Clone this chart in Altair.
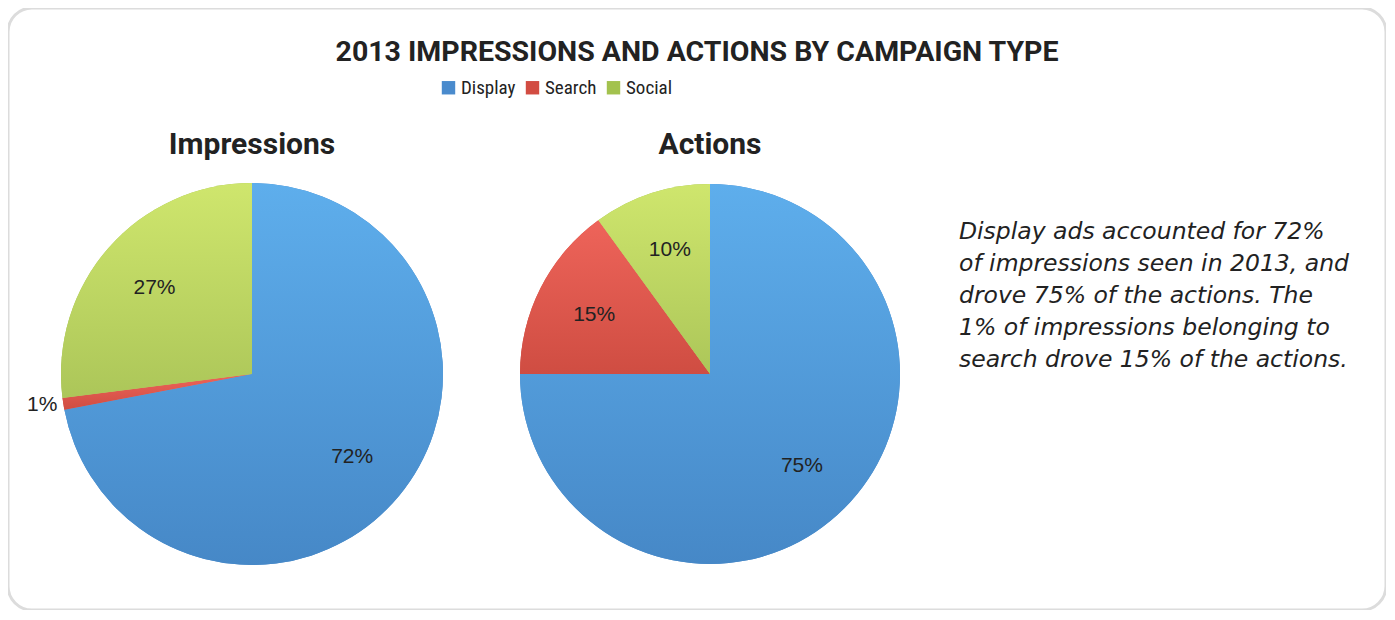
import math
import altair as alt
import pandas as pd

# ---------------- data ----------------
categories = ["Display", "Search", "Social"]
impressions = [72, 1, 27]
actions = [75, 15, 10]
pie_titles = ["Impressions", "Actions"]
title_text = ["2013 IMPRESSIONS AND ACTIONS BY CAMPAIGN TYPE"]
note_lines = [
    "Display ads accounted for 72%",
    "of impressions seen in 2013, and",
    "drove 75% of the actions. The",
    "1% of impressions belonging to",
    "search drove 15% of the actions.",
]

# ---------------- styles ----------------
legend_colors = ["#4A8BCD", "#D24C42", "#A3C24E"]
grad_top = ["#5EAEEC", "#EE645A", "#CFE66D"]
grad_bottom = ["#4688C7", "#CF4D42", "#ACC659"]
TXT = "#222222"
W, H = 1378, 602
pie_geo = [(244, 366, 191), (702, 366, 190)]   # centre x, centre y, radius (layout)

rows = []
for pie, vals in zip(pie_titles, [impressions, actions]):
    for i, (c, v) in enumerate(zip(categories, vals)):
        rows.append({"pie": pie, "category": c, "value": v, "order": i})
df = pd.DataFrame(rows)

total = max(sum(impressions), sum(actions))
theta_scale = alt.Scale(domain=[0, total], range=[0, 2 * math.pi])
color_scale = alt.Scale(domain=categories, range=legend_colors)
legend = alt.Legend(
    orient="none", legendX=431, legendY=70, direction="horizontal", columns=3,
    title=None, symbolType="square", symbolSize=180, symbolStrokeWidth=0,
    labelFontSize=19, labelFont="Liberation Sans Narrow, Roboto Condensed, Roboto",
    labelColor=TXT, columnPadding=7, labelOffset=3, padding=0,
)

layers = []
for pie, (cx, cy, r) in zip(pie_titles, pie_geo):
    base = (
        alt.Chart(df)
        .transform_filter(alt.datum.pie == pie)
        .transform_window(end="sum(value)", sort=[alt.SortField("order")], frame=[None, 0])
        .transform_calculate(
            start="datum.end - datum.value",
            mid="datum.end - datum.value / 2",
            label="datum.value + '%'",
        )
    )
    pos = dict(x=alt.value(cx), y=alt.value(cy))
    layers.append(
        base.mark_arc(strokeWidth=0).encode(
            theta=alt.Theta("start:Q", scale=theta_scale),
            theta2="end:Q",
            color=alt.Color("category:N", scale=color_scale, legend=legend),
            radius=alt.value(r),
            **pos,
        )
    )
    for j, cat in enumerate(categories):
        grad = alt.LinearGradient(
            gradient="linear",
            stops=[alt.GradientStop(color=grad_top[j], offset=0),
                   alt.GradientStop(color=grad_bottom[j], offset=1)],
            x1=0, x2=0, y1=0, y2=1,
        )
        layers.append(
            base.transform_filter(alt.datum.category == cat)
            .mark_arc(fill=grad, strokeWidth=0)
            .encode(
                theta=alt.Theta("start:Q", scale=theta_scale),
                theta2="end:Q",
                radius=alt.value(r),
                **pos,
            )
        )
    layers.append(
        base.transform_filter(alt.datum.value >= 5)
        .mark_text(font="Liberation Sans", fontSize=21, color=TXT, baseline="middle")
        .encode(theta=alt.Theta("mid:Q", scale=theta_scale), radius=alt.value(130),
                text="label:N", **pos)
    )
    layers.append(
        base.transform_filter(alt.datum.value < 5)
        .mark_text(font="Liberation Sans", fontSize=21, color=TXT, baseline="middle", align="right")
        .encode(theta=alt.Theta("mid:Q", scale=theta_scale), radius=alt.value(197),
                text="label:N", **pos)
    )
    layers.append(
        alt.Chart(pd.DataFrame({"t": [pie]}))
        .mark_text(font="Roboto", fontWeight="bold", fontSize=30, color=TXT,
                   align="center", baseline="middle")
        .encode(x=alt.value(cx), y=alt.value(137), text="t:N")
    )

layers.append(
    alt.Chart(pd.DataFrame({"t": title_text}))
    .mark_text(font="Roboto", fontWeight="bold", fontSize=28.5, color=TXT,
               align="center", baseline="middle")
    .encode(x=alt.value(689), y=alt.value(44), text="t:N")
)
layers.append(
    alt.Chart(pd.DataFrame({"t": [0]}))
    .mark_text(text=note_lines, font="DejaVu Sans", fontStyle="italic", fontSize=23.5,
               lineHeight=32, color=TXT, align="left", baseline="alphabetic")
    .encode(x=alt.value(951), y=alt.value(231))
)

chart = (
    alt.layer(*layers)
    .properties(width=W, height=H, padding=0)
    .configure_view(stroke="#DCDCDC", strokeWidth=3, cornerRadius=24)
)
chart.save("out.html", embed_options={"renderer": "svg", "actions": False})
